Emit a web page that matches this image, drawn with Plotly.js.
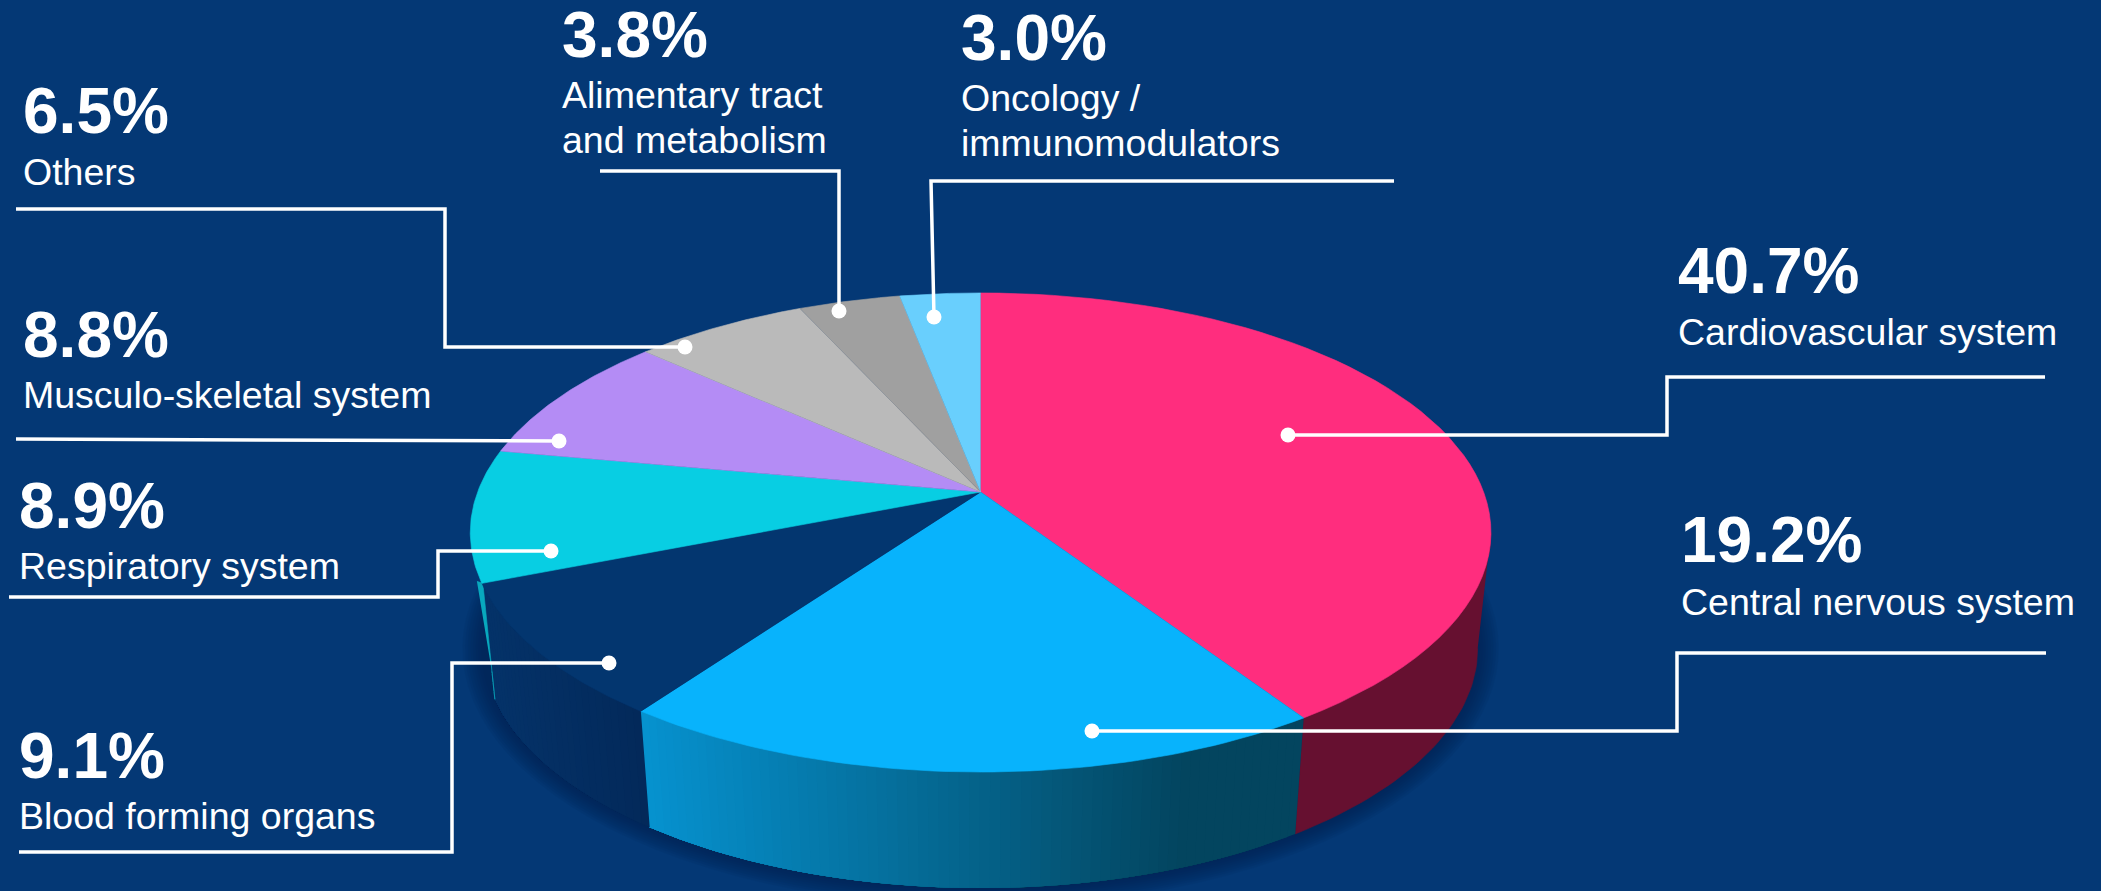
<!DOCTYPE html>
<html><head><meta charset="utf-8">
<script src="https://cdn.plot.ly/plotly-3.0.1.min.js"></script>
<style>html,body{margin:0;padding:0;background:#043875;overflow:hidden}#c{width:2101px;height:891px}</style>
</head><body><div id="c"></div>
<script>
// ---- data (clockwise from 12 o'clock) ----
var categories = [["Cardiovascular system"],["Central nervous system"],["Blood forming organs"],["Respiratory system"],["Musculo-skeletal system"],["Others"],["Alimentary tract","and metabolism"],["Oncology /","immunomodulators"]];
var shares = [40.7,19.2,9.1,8.9,8.8,6.5,3.8,3.0];
var percentLabels = ["40.7%","19.2%","9.1%","8.9%","8.8%","6.5%","3.8%","3.0%"];

// ---- styling ----
var sliceColors = ["#FF2D7E","#08B3FC","#03366F","#08CEE3","#B48CF5","#BABABA","#A0A0A0","#69CFFD"];
var BG = "#043875";
var FONT = "Liberation Sans, Arial, sans-serif";

// ---- perspective disc: pixel-space axes, disc centre, foreshortening ----
var cx=980.6, cy=492, A=503, B=232.7, K=0.169, DEPTH=116, SHRINK=0.974;
function topPt(t){var u=Math.sin(t),v=-Math.cos(t),w=1-K*v;return [cx+A*u/w,cy+B*v/w];}
function botPt(t){var p=topPt(t);return [cx+SHRINK*(p[0]-cx),p[1]+DEPTH];}
function frac(c){return 2*Math.PI*c/100;}
var cum=[0];shares.forEach(function(s,i){cum.push(cum[i]+s);});

var traces=[];
function poly(pts,color,opacity,lw){
  traces.push({type:"scatter",mode:"lines",x:pts.map(function(p){return p[0];}),y:pts.map(function(p){return p[1];}),
    fill:"toself",fillcolor:color,line:{color:color,width:lw==null?0.6:lw},opacity:opacity==null?1:opacity,hoverinfo:"skip",showlegend:false});
}
function arc(f,a,b,n){var o=[];for(var i=0;i<=n;i++)o.push(f(a+(b-a)*i/n));return o;}
function wall(a,b,color){poly(arc(topPt,a,b,40).concat(arc(botPt,a,b,40).reverse()),color);}
function lerpColor(c1,c2,m){var r=[0,1,2].map(function(i){return Math.round(c1[i]+(c2[i]-c1[i])*m);});return "rgb("+r.join(",")+")";}
// painter's gradient: every band runs on to the far end of the wall, so no seams show through
function gradWall(a,b,n,colorAt){for(var i=0;i<n;i++){var s=a+(b-a)*i/n,e=a+(b-a)*(i+1)/n;
  var pm=topPt((s+e)/2);poly(arc(topPt,s,b,30).concat(arc(botPt,s,b,30).reverse()),colorAt(pm[0]),1,0);}}

// soft shadow round the lower wall
for(var e=1;e<=8;e++){
  var ring=arc(function(t){var p=botPt(t);return [cx+(p[0]-cx)*(1+e*0.0052),532+116+(p[1]-648)*(1+e*0.0095)];},0,2*Math.PI,120);
  poly(ring,"#01204F",0.10);
}
// walls
var tCut1=frac(cum[1]),tCut2=frac(cum[2]),tCut3=frac(cum[3]);
wall(Math.asin(K)+Math.PI/2,tCut1,"#661030");
gradWall(tCut1,tCut2,70,function(x){var m=Math.min(1,Math.max(0,(x-642)/(1185-642)));return lerpColor([6,146,207],[3,69,95],m);});
gradWall(tCut2,tCut3,30,function(x){var m=Math.min(1,Math.max(0,(x-490)/(642-490)));return lerpColor([4,50,104],[3,41,90],m);});
// thin visible edge of the respiratory wall
(function(){var p=topPt(tCut3),q=botPt(tCut3);poly([[p[0]-5,p[1]-2],[p[0]+1,p[1]],[q[0],q[1]],[q[0]-3,q[1]-28]],"#08A9BE");})();
// top face
shares.forEach(function(s,i){
  poly([[cx,cy]].concat(arc(topPt,frac(cum[i]),frac(cum[i+1]),60)),sliceColors[i]);
});

// leader lines and dots: separate layout table, in picture pixels, same order as categories
var leaders=[
 [[2045,377],[1667,377],[1667,435],[1288,435]],
 [[2046,653],[1677,653],[1677,731],[1092,731]],
 [[19,852],[452,852],[452,663],[609,663]],
 [[9,597],[438,597],[438,551],[551,551]],
 [[16,439],[559,441]],
 [[16,209],[445,209],[445,347],[685,347]],
 [[600,171],[839,171],[839,311]],
 [[1394,181],[931,181],[934,317]]
];
leaders.forEach(function(l){
  traces.push({type:"scatter",mode:"lines",x:l.map(function(p){return p[0];}),y:l.map(function(p){return p[1];}),
    line:{color:"#fff",width:3.5,shape:"linear"},hoverinfo:"skip",showlegend:false});
});
traces.push({type:"scatter",mode:"markers",x:leaders.map(function(l){return l[l.length-1][0];}),y:leaders.map(function(l){return l[l.length-1][1];}),
  marker:{color:"#fff",size:15,line:{width:0}},hoverinfo:"skip",showlegend:false});

// text anchors: [x, percent baseline, first-label baseline]
var textAnchors=[[1678,293,345],[1681,562,615],[19,778,829],[19,528,579],[23,357,408],[23,133,185],[562,57,108],[961,60,111]];
var BIG=64, SMALL=37.5, LINE=45;
var annotations=[];
function addText(txt,x,base,size,bold){
  annotations.push({xref:"x",yref:"y",x:x,y:base-0.3465*size,text:bold?"<b>"+txt+"</b>":txt,showarrow:false,xanchor:"left",yanchor:"middle",
    borderpad:0,borderwidth:0,font:{family:FONT,size:size,color:"#fff"}});
}
categories.forEach(function(lines,i){
  var a=textAnchors[i];
  addText(percentLabels[i],a[0],a[1],BIG,true);
  lines.forEach(function(t,j){addText(t,a[0],a[2]+j*LINE,SMALL,false);});
});

Plotly.newPlot("c",traces,{
  width:2101,height:891,margin:{l:0,r:0,t:0,b:0},paper_bgcolor:BG,plot_bgcolor:BG,showlegend:false,
  xaxis:{range:[0,2101],visible:false,fixedrange:true},
  yaxis:{range:[891,0],visible:false,fixedrange:true},
  annotations:annotations
},{displayModeBar:false,staticPlot:true});
</script></body></html>
